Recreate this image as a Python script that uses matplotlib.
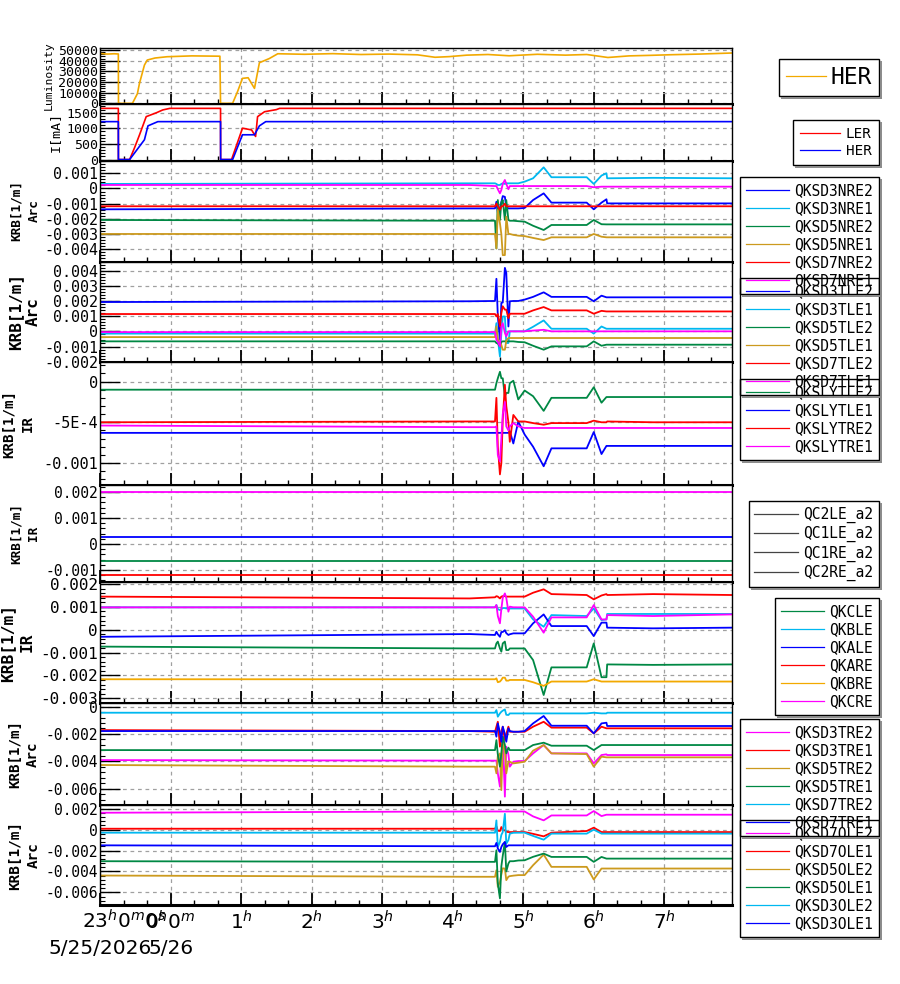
import numpy as np
import matplotlib
matplotlib.use("Agg")
import matplotlib.pyplot as plt
from matplotlib.ticker import MultipleLocator, AutoMinorLocator, FuncFormatter, FixedLocator, FixedFormatter
from matplotlib.lines import Line2D

# ---------------- data (time in hours from 5/26 0:00) ----------------
lum_t = [-1.0, -0.90, -0.80, -0.74, -0.738, -0.54, -0.47, -0.44, -0.37, -0.33, -0.22, -0.05, 0.30, 0.70,
         0.709, 0.88, 0.95, 1.02, 1.10, 1.19, 1.26, 1.40, 1.52, 1.9, 2.3, 2.7, 3.1, 3.5, 3.75, 3.95, 4.2,
         4.5, 4.8, 5.2, 5.6, 5.9, 6.2, 6.5, 6.8, 7.1, 7.5, 7.96]
lum_her = [46800, 46200, 46500, 46300, 0, 0, 9000, 18800, 35900, 40600, 42500, 43700, 44500, 44200,
           0, 0, 11000, 23400, 24000, 14000, 38100, 42000, 46500, 46000, 46600, 45800, 46200, 45500,
           43200, 43800, 45200, 45800, 44600, 46000, 45200, 45800, 43000, 44500, 45000, 45600, 46200, 47200]

ler_t = [-1.0, -0.74, -0.739, -0.58, -0.51, -0.44, -0.345, -0.20, -0.11, -0.01, 0.709, 0.71, 0.865,
         1.02, 1.149, 1.206, 1.234, 1.333, 1.50, 1.546, 7.96]
ler_i = [1640, 1640, 0, 0, 380, 790, 1375, 1500, 1590, 1640, 1640, 0, 0, 1005, 950, 740, 1375, 1533,
         1600, 1640, 1640]
her_t = [-1.0, -0.74, -0.739, -0.58, -0.37, -0.32, -0.18, 0.709, 0.71, 0.88, 1.02, 1.19, 1.26, 1.35, 7.96]
her_i = [1215, 1215, 0, 0, 635, 1080, 1215, 1215, 0, 0, 794, 794, 1080, 1215, 1215]

# KRB time grid and values (units of 1e-3 1/m)
t_krb = [-1.0, 4.24, 4.60, 4.62, 4.64, 4.67, 4.69, 4.71, 4.74, 4.76, 4.79, 4.81, 4.86, 4.93, 5.02,
         5.14, 5.29, 5.40, 5.90, 6.00, 6.11, 6.18, 6.19, 6.84, 7.96]

qksd3nre2 = [-1.37, -1.31, -1.31, -0.87, -1.60, -1.30, -0.90, -0.50, -0.55, -1.20, -1.31, -1.31, -1.31, -1.31, -1.28, -0.76, -0.32, -0.93, -0.93, -1.37, -0.93, -0.71, -0.98, -0.98, -0.98]
qksd3nre1 = [0.30, 0.34, 0.34, 0.30, 0.23, 0.23, 0.30, 0.34, 0.30, 0.34, 0.34, 0.34, 0.34, 0.34, 0.45, 0.67, 1.39, 0.74, 0.74, 0.30, 0.85, 1.00, 0.67, 0.70, 0.67]
qksd5nre2 = [-2.07, -2.12, -2.12, -3.94, -0.76, -2.07, -0.90, -0.76, -2.07, -0.76, -2.07, -2.12, -2.12, -2.15, -2.18, -2.45, -2.73, -2.40, -2.40, -2.07, -2.35, -2.36, -2.36, -2.36, -2.36]
qksd5nre1 = [-2.99, -2.99, -2.99, -3.94, -1.41, -2.29, -3.00, -4.38, -4.38, -1.85, -2.99, -2.99, -3.05, -3.10, -3.13, -3.25, -3.39, -3.21, -3.21, -2.99, -3.17, -3.21, -3.21, -3.21, -3.21]
qksd7nre2 = [-1.17, -1.17, -1.17, -1.00, -1.17, -1.40, -1.17, -1.17, -1.00, -1.17, -1.17, -1.17, -1.17, -1.17, -1.17, -1.17, -1.17, -1.17, -1.17, -1.17, -1.17, -1.17, -1.17, -1.17, -1.17]
qksd7nre1 = [0.23, 0.23, 0.16, 0.16, -0.05, -0.32, -0.10, 0.30, 0.56, 0.30, -0.05, 0.16, 0.16, 0.16, 0.16, 0.16, 0.16, 0.16, 0.16, 0.08, 0.12, 0.12, 0.12, 0.12, 0.12]

qksd3tle2 = [1.93, 1.98, 2.00, 3.46, 0.98, -0.55, 1.87, 1.90, 4.18, 3.85, 0.32, 1.98, 2.00, 2.00, 2.09, 2.27, 2.57, 2.27, 2.27, 1.98, 2.35, 2.24, 2.24, 2.24, 2.24]
qksd3tle1 = [-0.15, -0.15, -0.15, 0.54, -0.50, -1.66, -0.15, 0.98, 0.98, -0.77, -0.77, 0.00, 0.00, 0.00, 0.00, 0.30, 0.72, 0.17, 0.17, -0.15, 0.32, 0.17, 0.17, 0.17, 0.17]
qksd5tle2 = [-0.66, -0.66, -0.66, -0.77, -0.80, -0.99, -0.70, -0.66, -0.66, -0.66, -0.66, -0.66, -0.66, -0.70, -0.72, -0.95, -1.21, -0.99, -0.99, -0.66, -0.95, -0.88, -0.88, -0.88, -0.88]
qksd5tle1 = [-0.38, -0.38, -0.38, 0.32, -0.50, -0.77, -0.90, -1.21, -1.21, -0.60, -0.44, -0.44, -0.44, -0.44, -0.44, -0.44, -0.44, -0.44, -0.44, -0.44, -0.44, -0.44, -0.44, -0.44, -0.44]
qksd7tle2 = [1.14, 1.14, 1.14, 0.98, 1.14, 0.32, 1.20, 1.65, 1.43, 1.43, 0.87, 1.16, 1.16, 1.16, 1.16, 1.38, 1.60, 1.38, 1.38, 1.16, 1.35, 1.31, 1.31, 1.31, 1.31]
qksd7tle1 = [-0.05, -0.05, -0.05, -0.55, -0.70, -0.99, 0.30, 0.54, -0.10, -0.33, 0.00, 0.00, 0.00, 0.00, 0.00, 0.05, 0.10, 0.00, 0.00, 0.00, 0.00, 0.00, 0.00, 0.00, 0.00]

qkslytle2 = [-0.10, -0.10, -0.10, -0.02, 0.04, 0.12, 0.04, 0.04, -0.18, -0.14, -0.14, -0.02, 0.01, -0.22, -0.11, -0.18, -0.36, -0.20, -0.20, -0.07, -0.26, -0.19, -0.19, -0.19, -0.19]
qkslytle1 = [-0.63, -0.63, -0.63, -0.63, -0.63, -0.63, -0.63, -0.63, -0.63, -0.63, -0.63, -0.61, -0.76, -0.49, -0.65, -0.80, -1.04, -0.82, -0.82, -0.62, -0.89, -0.79, -0.79, -0.79, -0.79]
qkslytre2 = [-0.50, -0.49, -0.49, -0.20, -0.80, -1.14, -1.00, -0.47, -0.04, -0.30, -0.50, -0.74, -0.41, -0.49, -0.49, -0.51, -0.53, -0.51, -0.51, -0.48, -0.50, -0.50, -0.49, -0.50, -0.50]
qkslytre1 = [-0.54, -0.56, -0.56, -0.55, -0.90, -0.98, -0.70, -0.40, -0.25, -0.55, -0.60, -0.55, -0.51, -0.55, -0.57, -0.57, -0.57, -0.57, -0.57, -0.57, -0.57, -0.57, -0.57, -0.57, -0.57]

t_qc = [-1.0, 7.96]
qc2le_a2 = [2.00, 2.00]
qc1le_a2 = [0.26, 0.26]
qc1re_a2 = [-0.67, -0.67]
qc2re_a2 = [-1.20, -1.20]

qkcle = [-0.74, -0.82, -0.82, -0.60, -0.52, -0.82, -0.96, -0.60, -0.52, -0.89, -0.89, -0.82, -0.82, -0.82, -0.82, -1.33, -2.86, -1.65, -1.65, -0.60, -2.08, -2.08, -1.52, -1.54, -1.52]
qkble = [0.98, 0.98, 0.98, 1.08, 0.90, 0.86, 0.90, 0.95, 0.95, 0.93, 0.93, 0.93, 0.93, 0.93, 0.93, 0.45, 0.13, 0.64, 0.60, 0.93, 0.42, 0.45, 0.69, 0.69, 0.69]
qkale = [-0.31, -0.19, -0.23, -0.09, -0.20, -0.31, -0.10, -0.10, -0.02, -0.15, -0.23, -0.20, -0.16, -0.16, -0.16, 0.28, 0.67, 0.16, 0.16, -0.28, 0.31, 0.31, 0.09, 0.06, 0.09]
qkare = [1.45, 1.37, 1.42, 1.47, 1.45, 1.37, 1.45, 1.47, 1.47, 1.45, 1.45, 1.45, 1.45, 1.45, 1.45, 1.62, 1.77, 1.56, 1.52, 1.33, 1.50, 1.56, 1.52, 1.56, 1.52]
qkbre = [-2.17, -2.17, -2.17, -2.13, -2.30, -2.27, -2.20, -2.10, -2.10, -2.23, -2.23, -2.20, -2.20, -2.20, -2.20, -2.30, -2.46, -2.27, -2.27, -2.17, -2.27, -2.27, -2.27, -2.27, -2.27]
qkcre = [0.98, 0.98, 0.98, 1.08, 0.60, 0.28, 0.90, 1.40, 1.59, 1.40, 0.79, 1.01, 0.98, 0.98, 0.98, 0.57, -0.13, 0.54, 0.54, 1.08, 0.45, 0.45, 0.64, 0.60, 0.67]

qksd3tre2 = [-3.91, -3.95, -3.95, -3.95, -4.88, -5.85, -4.00, -2.20, -6.58, -2.93, -3.50, -4.39, -4.03, -3.98, -3.98, -3.42, -2.81, -3.42, -3.42, -4.15, -3.54, -3.49, -3.54, -3.54, -3.54]
qksd3tre1 = [-1.72, -1.79, -1.84, -1.47, -1.11, -2.93, -1.80, -1.47, -2.45, -2.00, -1.47, -1.84, -1.84, -1.84, -1.84, -1.47, -1.11, -1.54, -1.54, -1.96, -1.47, -1.59, -1.59, -1.59, -1.59]
qksd5tre2 = [-4.27, -4.39, -4.39, -4.88, -3.60, -3.42, -6.10, -2.69, -3.20, -4.88, -4.00, -4.03, -4.15, -4.10, -4.03, -3.22, -2.81, -3.42, -3.47, -4.39, -3.66, -3.71, -3.71, -3.71, -3.71]
qksd5tre1 = [-3.18, -3.18, -3.18, -2.45, -3.50, -4.39, -3.40, -2.20, -2.80, -3.42, -3.00, -3.18, -3.18, -3.18, -3.18, -2.81, -2.64, -2.86, -2.86, -3.18, -2.81, -2.81, -2.81, -2.81, -2.81]
qksd7tre2 = [-0.45, -0.45, -0.45, -0.26, -0.74, -0.50, -0.38, -0.30, -0.21, -0.60, -0.62, -0.50, -0.50, -0.50, -0.50, -0.50, -0.50, -0.50, -0.50, -0.45, -0.50, -0.50, -0.45, -0.45, -0.45]
qksd7tre1 = [-1.79, -1.79, -1.79, -2.20, -1.23, -1.90, -2.57, -1.47, -2.00, -2.57, -1.59, -1.79, -1.84, -1.84, -1.79, -1.23, -0.69, -1.40, -1.40, -1.96, -1.23, -1.18, -1.42, -1.42, -1.42]

qksd7ole2 = [1.62, 1.74, 1.74, 1.74, 1.74, 1.74, 1.74, 1.74, 1.74, 1.74, 1.74, 1.74, 1.74, 1.74, 1.74, 1.27, 0.89, 1.36, 1.36, 1.78, 1.30, 1.43, 1.43, 1.43, 1.43]
qksd7ole1 = [0.09, 0.09, 0.09, 0.31, -0.10, -0.13, 0.25, 0.00, -0.07, -0.20, -0.23, -0.23, -0.23, -0.23, -0.23, -0.40, -0.64, -0.29, -0.13, 0.19, -0.23, -0.23, -0.23, -0.23, -0.23]
qksd5ole2 = [-4.39, -4.51, -4.51, -3.88, -5.47, -4.99, -4.30, -3.70, -3.72, -4.83, -4.50, -4.45, -4.40, -4.35, -4.35, -3.40, -2.39, -3.56, -3.56, -4.77, -3.72, -3.72, -3.72, -3.72, -3.72]
qksd5ole1 = [-3.02, -3.08, -3.08, -1.97, -5.15, -6.58, -3.50, -2.50, -1.18, -4.00, -3.24, -3.02, -3.02, -2.95, -2.93, -2.60, -2.29, -2.61, -2.61, -3.08, -2.61, -2.77, -2.77, -2.77, -2.77]
qksd3ole2 = [-0.29, -0.29, -0.29, 0.89, -1.66, -1.18, -0.50, -0.23, 1.52, -1.34, -1.00, -0.38, -0.30, -0.29, -0.29, -0.60, -0.96, -0.38, -0.38, 0.00, -0.38, -0.38, -0.38, -0.38, -0.38]
qksd3ole1 = [-1.50, -1.59, -1.59, -1.27, -1.80, -2.13, -1.66, -1.40, -1.18, -1.66, -1.50, -1.50, -1.50, -1.50, -1.50, -1.50, -1.50, -1.50, -1.50, -1.50, -1.50, -1.50, -1.50, -1.50, -1.50]

hour_labels = ['', r'$0^{h}0^{m}$', r'$1^{h}$', r'$2^{h}$', r'$3^{h}$', r'$4^{h}$', r'$5^{h}$', r'$6^{h}$', r'$7^{h}$']

BLUE = '#0000ff'
CYAN = '#00b8f0'
GREEN = '#008844'
GOLD = '#cc9a1e'
RED = '#ff0000'
MAGENTA = '#ff00ff'
ORANGE = '#f2a900'

W, H = 900, 984
XL, XR, XLEG = 100, 732, 879
MONO = 'DejaVu Sans Mono'


def fx(px):
    return px / W


def fy(py):
    return 1 - py / H


def fmt_g(v, pos):
    if abs(v) < 1e-12:
        return '0'
    return '%g' % round(v, 7)


def style_axes(ax, ylim, major, tick_fs):
    ax.set_xlim(-1.0, 7.96)
    ax.set_ylim(*ylim)
    ax.set_axisbelow(True)
    ax.xaxis.set_major_locator(MultipleLocator(1))
    ax.xaxis.set_minor_locator(MultipleLocator(1 / 3))
    if major is not None:
        ax.yaxis.set_major_locator(MultipleLocator(major))
        ax.yaxis.set_major_formatter(FuncFormatter(fmt_g))
    ax.yaxis.set_minor_locator(AutoMinorLocator(5))
    ax.tick_params(axis='y', which='major', direction='in', length=14.4, width=1.0,
                   labelsize=tick_fs, pad=1.5, labelfontfamily=MONO)
    ax.tick_params(axis='y', which='minor', direction='in', length=3.6, width=0.8)
    ax.tick_params(axis='x', which='major', direction='in', length=8.5, width=1.3, labelbottom=False)
    ax.tick_params(axis='x', which='minor', direction='in', length=3.6, width=1.0)
    ax.grid(True, which='major', color='#a0a0a0', linestyle=(0, (3, 3)), linewidth=0.9)
    ax.spines['bottom'].set_linewidth(2.2)
    for s in ('left', 'top', 'right'):
        ax.spines[s].set_linewidth(1.0)


legends = []


def add_legend(ax, top_px, fs, hl, htp, bp=0.4, handles=None, labels=None):
    kw = dict(loc='upper right', bbox_to_anchor=(fx(XLEG), fy(top_px)), bbox_transform=fig.transFigure,
              borderaxespad=0, prop={'family': MONO, 'size': fs}, handlelength=hl, handletextpad=htp,
              labelspacing=0.21, borderpad=bp, fancybox=False, framealpha=1, facecolor='none',
              edgecolor='black')
    if handles is not None:
        leg = ax.legend(handles, labels, **kw)
    else:
        leg = ax.legend(**kw)
    leg.get_frame().set_linewidth(1.0)
    for h in leg.legend_handles:
        h.set_linewidth(0.9)
    legends.append(leg)
    return leg


def ylabel2(panel, lines, xs, fs, weight='bold'):
    top, bot = panel
    yc = fy((top + bot) / 2)
    for txt, x in zip(lines, xs):
        fig.text(fx(x), yc, txt, rotation=90, ha='center', va='center', fontsize=fs,
                 family=MONO, fontweight=weight)


fig = plt.figure(figsize=(9, 9.84), dpi=100)

panel_px = [(48, 104), (104, 160.5), (160.5, 261.5), (261.5, 362), (362, 485),
            (485, 582), (582, 703), (703, 805), (805, 905)]
axes = []
for top, bot in panel_px:
    axes.append(fig.add_axes([fx(XL), fy(bot), fx(XR) - fx(XL), (bot - top) / H]))

# ---- luminosity ----
ax = axes[0]
ax.plot(lum_t, lum_her, color=ORANGE, lw=1.2, label='HER')
style_axes(ax, (-650, 51900), 10000, 9.5)
add_legend(ax, 59, 16.5, 1.75, 0.2, bp=0.3)
ylabel2(panel_px[0], ['Luminosity'], [49], 8.2, weight='normal')

# ---- beam current ----
ax = axes[1]
ax.plot(ler_t, ler_i, color=RED, lw=1.2, label='LER')
ax.plot(her_t, her_i, color=BLUE, lw=1.2, label='HER')
style_axes(ax, (-30, 1780), 500, 9.5)
add_legend(ax, 120, 10.3, 2.8, 0.4, bp=0.5)
ylabel2(panel_px[1], ['I[mA]'], [55], 9.6, weight='normal')

# ---- KRB panels ----
krb_panels = [
    dict(series=[('QKSD3NRE2', qksd3nre2, BLUE), ('QKSD3NRE1', qksd3nre1, CYAN), ('QKSD5NRE2', qksd5nre2, GREEN),
                 ('QKSD5NRE1', qksd5nre1, GOLD), ('QKSD7NRE2', qksd7nre2, RED), ('QKSD7NRE1', qksd7nre1, MAGENTA)],
         ylim=(-0.0048, 0.00184), major=0.001, tfs=10.8, lab=('KRB[1/m]', 'Arc'), labx=(16.7, 34.3), lfs=9.2, leg=177),
    dict(series=[('QKSD3TLE2', qksd3tle2, BLUE), ('QKSD3TLE1', qksd3tle1, CYAN), ('QKSD5TLE2', qksd5tle2, GREEN),
                 ('QKSD5TLE1', qksd5tle1, GOLD), ('QKSD7TLE2', qksd7tle2, RED), ('QKSD7TLE1', qksd7tle1, MAGENTA)],
         ylim=(-0.00202, 0.0046), major=0.001, tfs=10.8, lab=('KRB[1/m]', 'Arc'), labx=(16.0, 33.3), lfs=11.5, leg=278),
    dict(series=[('QKSLYTLE2', qkslytle2, GREEN), ('QKSLYTLE1', qkslytle1, BLUE), ('QKSLYTRE2', qkslytre2, RED),
                 ('QKSLYTRE1', qkslytre1, MAGENTA)],
         ylim=(-0.00127, 0.00024), major=None, tfs=11.0, lab=('KRB[1/m]', 'IR'), labx=(9.3, 28.3), lfs=10.2, leg=379),
    dict(series=[('QC2LE_a2', qc2le_a2, MAGENTA), ('QC1LE_a2', qc1le_a2, BLUE), ('QC1RE_a2', qc1re_a2, GREEN),
                 ('QC2RE_a2', qc2re_a2, RED)],
         ylim=(-0.00146, 0.00227), major=0.001, tfs=10.5, lab=('KRB[1/m]', 'IR'), labx=(16.0, 33.0), lfs=9.1, leg=501),
    dict(series=[('QKCLE', qkcle, GREEN), ('QKBLE', qkble, CYAN), ('QKALE', qkale, BLUE), ('QKARE', qkare, RED),
                 ('QKBRE', qkbre, ORANGE), ('QKCRE', qkcre, MAGENTA)],
         ylim=(-0.00321, 0.00209), major=0.001, tfs=11.5, lab=('KRB[1/m]', 'IR'), labx=(7.3, 26.7), lfs=11.7, leg=598),
    dict(series=[('QKSD3TRE2', qksd3tre2, MAGENTA), ('QKSD3TRE1', qksd3tre1, RED), ('QKSD5TRE2', qksd5tre2, GOLD),
                 ('QKSD5TRE1', qksd5tre1, GREEN), ('QKSD7TRE2', qksd7tre2, CYAN), ('QKSD7TRE1', qksd7tre1, BLUE)],
         ylim=(-0.00719, 0.00026), major=0.002, tfs=10.5, lab=('KRB[1/m]', 'Arc'), labx=(15.0, 33.0), lfs=10.2, leg=719),
    dict(series=[('QKSD7OLE2', qksd7ole2, MAGENTA), ('QKSD7OLE1', qksd7ole1, RED), ('QKSD5OLE2', qksd5ole2, GOLD),
                 ('QKSD5OLE1', qksd5ole1, GREEN), ('QKSD3OLE2', qksd3ole2, CYAN), ('QKSD3OLE1', qksd3ole1, BLUE)],
         ylim=(-0.00721, 0.00236), major=0.002, tfs=10.5, lab=('KRB[1/m]', 'Arc'), labx=(15.0, 34.0), lfs=10.4, leg=820),
]

for i, p in enumerate(krb_panels):
    ax = axes[i + 2]
    is_qc = p['series'][0][0].startswith('QC')
    for name, vals, col in p['series']:
        t = t_qc if is_qc else t_krb
        ax.plot(t, np.array(vals) * 1e-3, color=col, lw=1.3, label=name)
    style_axes(ax, p['ylim'], p['major'], p['tfs'])
    if p['major'] is None:
        ax.yaxis.set_major_locator(FixedLocator([-0.001, -0.0005, 0.0]))
        ax.yaxis.set_major_formatter(FixedFormatter(['-0.001', '-5E-4', '0']))
    if is_qc:
        hs = [Line2D([], [], color='#444444', lw=0.9) for _ in p['series']]
        add_legend(ax, p['leg'], 10.5, 3.0, 0.34, handles=hs, labels=[s[0] for s in p['series']])
    else:
        add_legend(ax, p['leg'], 10.5, 3.0, 0.34)
    ylabel2(panel_px[i + 2], p['lab'], p['labx'], p['lfs'])

# ---- time axis labels ----
axb = axes[-1]
axb.set_xticks(range(-1, 8))
axb.set_xticklabels(hour_labels)
axb.tick_params(axis='x', which='major', labelbottom=True, labelsize=14.5, pad=4)
fig.text(fx(124), fy(909), r'$23^{h}0^{m}0^{s}$', ha='center', va='top', fontsize=14.5)
fig.text(fx(100), fy(949), '5/25/2026', ha='center', va='center', fontsize=14.5)
fig.text(fx(171), fy(949), '5/26', ha='center', va='center', fontsize=14.5)

# drop shadow on right and bottom edge of each legend box
fig.canvas.draw()
for leg in legends:
    bb = leg.get_frame().get_window_extent()
    x0, y0, x1, y1 = bb.x0, bb.y0, bb.x1, bb.y1
    fig.add_artist(Line2D([x1 + 2, x1 + 2], [y1 - 3, y0 - 2], color='#8a8a8a', lw=1.4, transform=None))
    fig.add_artist(Line2D([x0 + 3, x1 + 2], [y0 - 2, y0 - 2], color='#8a8a8a', lw=1.4, transform=None))

fig.savefig('out.png', dpi=100, facecolor='white')
